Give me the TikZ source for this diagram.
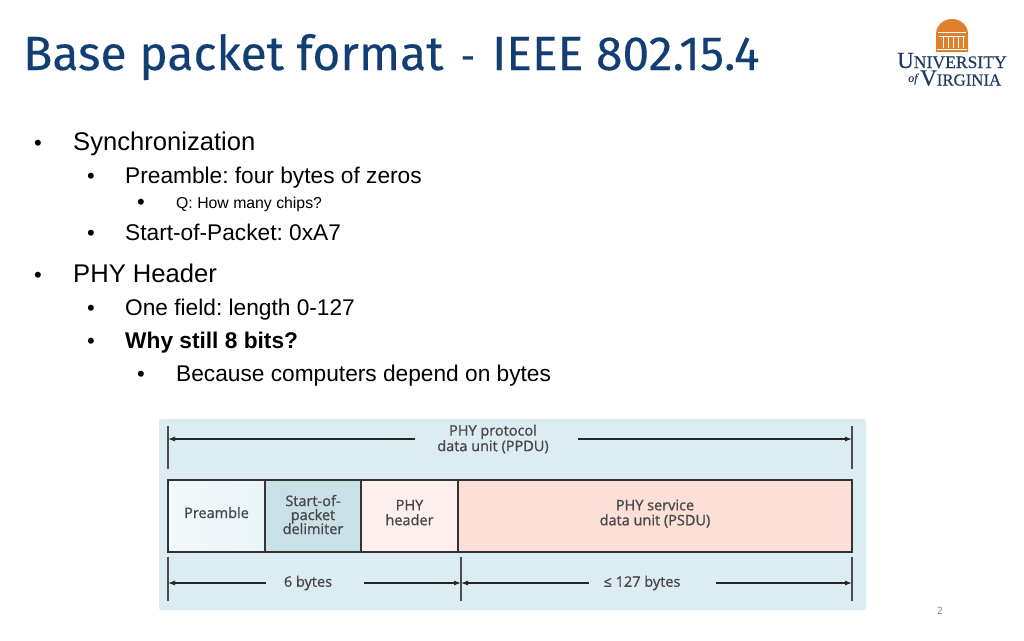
\documentclass[tikz,border=0pt]{standalone}
\usepackage{fontspec}
\setmainfont{Liberation Sans}
\newfontfamily\titlefont[FakeBold=0.2]{Fira Sans}
\newfontfamily\figfont[FakeBold=1]{Open Sans}
\newfontfamily\pagefont{Open Sans}
\newfontfamily\logofont[FakeBold=0.3]{Liberation Serif}
\usetikzlibrary{arrows.meta,positioning}
\definecolor{titleblue}{HTML}{123F73}
\definecolor{panelblue}{HTML}{DCECF3}
\definecolor{figtext}{HTML}{474747}
\definecolor{uvaorange}{HTML}{DE7F2C}
\definecolor{uvanavy}{HTML}{1F3A63}
\definecolor{sfdblue}{HTML}{C9E0E7}
\definecolor{hdrpink}{HTML}{FDEFED}
\definecolor{psdupink}{HTML}{FCDFD7}
\tikzstyle{lvlone} = [anchor=base west, inner sep=0pt, font=\fontsize{25.6}{26}\selectfont]
\tikzstyle{lvltwo} = [anchor=base west, inner sep=0pt, font=\fontsize{22.7}{23}\selectfont]
\tikzstyle{lvlthree} = [anchor=base west, inner sep=0pt, font=\fontsize{15.8}{16}\selectfont]
\tikzstyle{dot} = [anchor=base, inner sep=0pt, font=\fontsize{22}{22}\selectfont]
\tikzstyle{field} = [rectangle, draw=black!80, line width=1.1pt, minimum height=72pt,
    inner sep=0pt, outer sep=0pt, anchor=west, text=figtext, align=center,
    font=\figfont\fontsize{14.5}{15}\selectfont]
\tikzstyle{figlabel} = [inner sep=0pt, text=figtext, align=center,
    font=\figfont\fontsize{14.5}{15.5}\selectfont]
\tikzstyle{dimarrow} = [-{Latex[length=7pt,width=5pt]}, line width=1.1pt, black!85]
\tikzstyle{dimtick} = [line width=1.1pt, black!70]
\tikzstyle{logotext} = [anchor=base west, inner sep=0pt, text=uvanavy]
\newcommand{\logocap}[1]{{\fontsize{23}{23}\selectfont #1}}
\newcommand{\fieldlift}{\rule[-7pt]{0pt}{0pt}}
\begin{document}
\frenchspacing
\begin{tikzpicture}[x=1pt,y=-1pt]
  \useasboundingbox (0,0) rectangle (1024,640);
  \fill[white] (0,0) rectangle (1024,640);

  % title and logo
  \node[anchor=base west, inner sep=0pt, text=titleblue, font=\titlefont\fontsize{48}{48}\selectfont]
    (title) at (23,70) {Base packet format \hspace{6pt}\scalebox{.45}[.8]{–}\hspace{6pt} IEEE 802.15.4};
  \fill[uvaorange] (936,52) -- (936,34) arc[start angle=180, end angle=360, x radius=16, y radius=15] -- (968,52) -- cycle;
  \draw[white, line width=.6pt] (938,32) -- (966,32) (939,36) -- (965,36) (937,49) -- (967,49);
  \foreach \x in {943,948,953,958,963} \draw[white, line width=.6pt] (\x,37) -- (\x,48);
  \node[logotext, font=\logofont\fontsize{17.6}{17}\selectfont] (univ) at (897,68) {\logocap{U}NIVERSITY};
  \node[logotext, font=\logofont\fontsize{16.8}{17}\selectfont] (virg) at (920,85.5) {\logocap{V}IRGINIA};
  \node[logotext, font=\logofont\itshape\fontsize{12}{12}\selectfont] (of) at (908,82) {of};

  % bullet list
  \node[dot] (d1) at (38,150) {•};
  \node[lvlone] (sync) at (73,150) {Synchronization};
  \node[dot] (d2) at (91,183) {•};
  \node[lvltwo] (pre) at (125,183) {Preamble: four bytes of zeros};
  \node[dot] (d3) at (141,209) {•};
  \node[lvlthree] (chips) at (176,208) {Q: How many chips?};
  \node[dot] (d4) at (91,240) {•};
  \node[lvltwo] (sop) at (125,240) {Start-of-Packet: 0xA7};
  \node[dot] (d5) at (38,282) {•};
  \node[lvlone] (phy) at (73,282) {PHY Header};
  \node[dot] (d6) at (91,315) {•};
  \node[lvltwo] (len) at (125,315) {One field: length 0-127};
  \node[dot] (d7) at (91,348) {•};
  \node[lvltwo] (why) at (125,348) {\bfseries Why still 8 bits?};
  \node[dot] (d8) at (141,381) {•};
  \node[lvltwo] (bytes) at (176,381) {Because computers depend on bytes};

  % packet figure
  \fill[panelblue, rounded corners=2pt] (159,419) rectangle (866,610);
  \node[field, minimum width=97pt, left color=white!70!panelblue, right color=panelblue!60!white] (preamble) at (168,516) {Preamble\fieldlift};
  \node[field, minimum width=96pt, right=0pt of preamble, fill=sfdblue] (sfd) {Start-of-\\[-1pt]packet\\[-1pt]delimiter\rule[-3pt]{0pt}{0pt}};
  \node[field, minimum width=97pt, right=0pt of sfd, fill=hdrpink] (phdr) {PHY\\header\fieldlift};
  \node[field, minimum width=394pt, right=0pt of phdr, fill=psdupink] (psdu) {PHY service\\data unit (PSDU)\fieldlift};

  \node[figlabel] (ppdu) at (493,439) {PHY protocol\\data unit (PPDU)};
  \node[figlabel] (six) at (308,583) {6 bytes};
  \node[figlabel] (max) at (642,583) {≤ 127 bytes};

  \coordinate (ppdua) at (415,439);
  \coordinate (ppdub) at (578,439);
  \coordinate (sixa) at (266,583);
  \coordinate (sixb) at (364,583);
  \coordinate (maxa) at (589,583);
  \coordinate (maxb) at (716,583);
  \coordinate (ta) at (168,426);
  \coordinate (tb) at (168,469);
  \coordinate (tc) at (852,426);
  \coordinate (td) at (852,469);
  \coordinate (te) at (168,557);
  \coordinate (tf) at (168,601);
  \coordinate (tg) at (461,557);
  \coordinate (th) at (461,601);
  \coordinate (ti) at (852,557);
  \coordinate (tj) at (852,601);

  \draw[dimtick] (ta) -- (tb);
  \draw[dimtick] (tc) -- (td);
  \draw[dimtick] (te) -- (tf);
  \draw[dimtick] (tg) -- (th);
  \draw[dimtick] (ti) -- (tj);
  \draw[dimarrow] (ppdua) -- (ta |- ppdua);
  \draw[dimarrow] (ppdub) -- (tc |- ppdub);
  \draw[dimarrow] (sixa) -- (te |- sixa);
  \draw[dimarrow] (sixb) -- (tg |- sixb);
  \draw[dimarrow] (maxa) -- (tg |- maxa);
  \draw[dimarrow] (maxb) -- (ti |- maxb);

  \node[inner sep=0pt, text=black!50, font=\pagefont\fontsize{10}{10}\selectfont] (page) at (940,611) {2};
\end{tikzpicture}
\end{document}
